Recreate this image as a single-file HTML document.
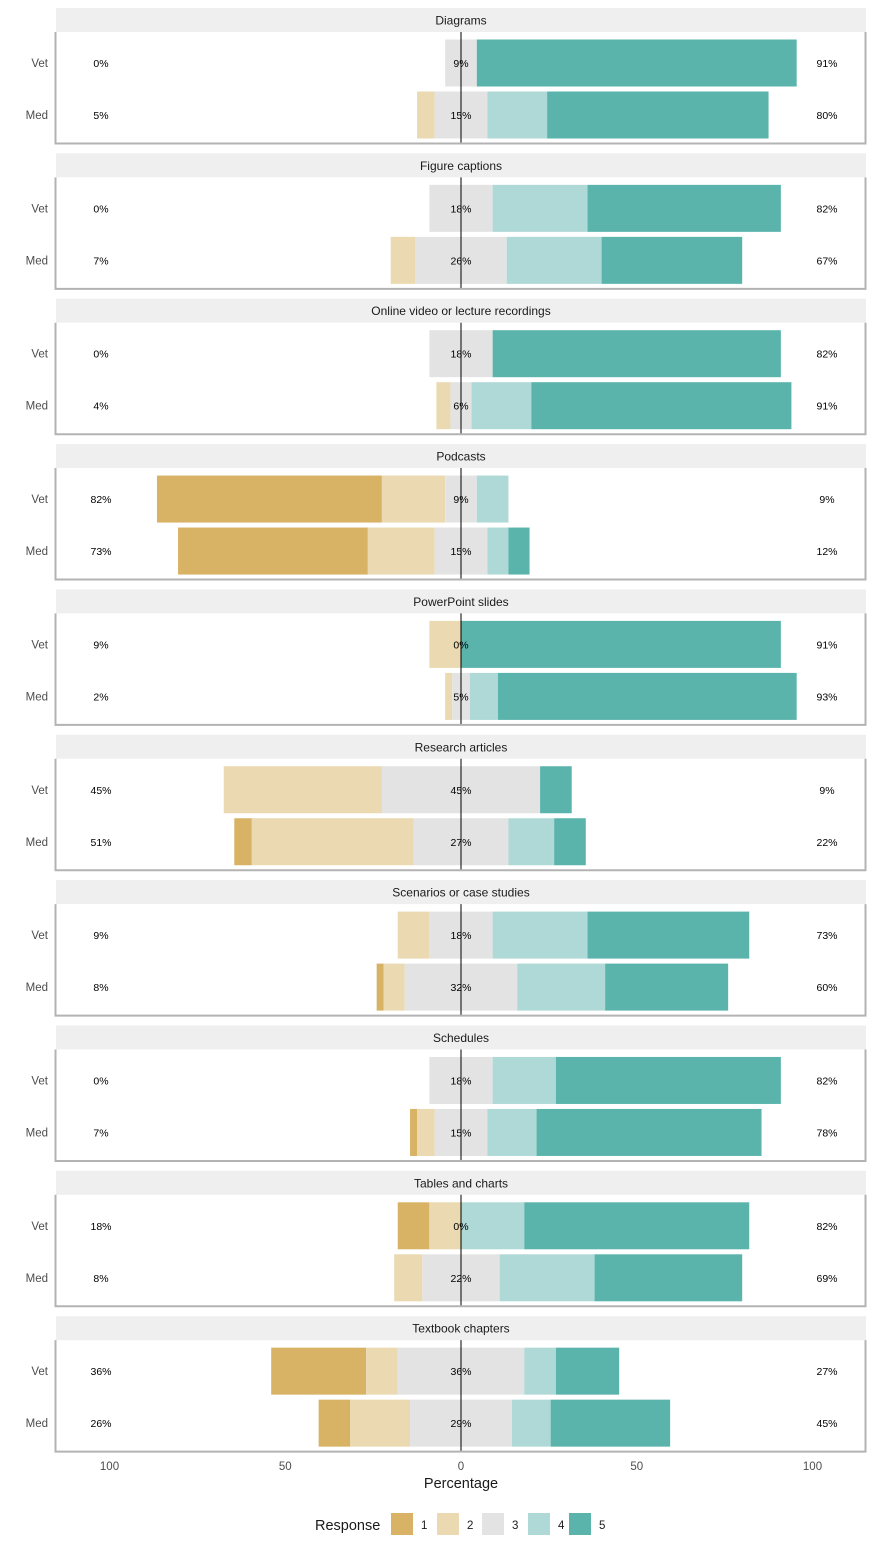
<!DOCTYPE html>
<html><head><meta charset="utf-8"><style>body{margin:0;background:#fff}svg{display:block;font-family:"Liberation Sans",Arial,sans-serif}</style></head>
<body>
<svg id="chart" width="874" height="1550" viewBox="0 0 874 1550"></svg>
<script>
const panels=["Diagrams","Figure captions","Online video or lecture recordings","Podcasts","PowerPoint slides","Research articles","Scenarios or case studies","Schedules","Tables and charts","Textbook chapters"];
const groups=["Vet","Med"];
// values per panel: [vet[1..5], med[1..5]]
const vetValues=[[0,0,9,0,91],[0,0,18,27,55],[0,0,18,0,82],[64,18,9,9,0],[0,9,0,0,91],[0,45,45,0,9],[0,9,18,27,46],[0,0,18,18,64],[9,9,0,18,64],[27,9,36,9,18]];
const medValues=[[0,5,15,17,63],[0,7,26,27,40],[0,4,6,17,74],[54,19,15,6,6],[0,2,5,8,85],[5,46,27,13,9],[2,6,32,25,35],[2,5,15,14,64],[0,8,22,27,42],[9,17,29,11,34]];
const lowLabels=[[0,5],[0,7],[0,4],[82,73],[9,2],[45,51],[9,8],[0,7],[18,8],[36,26]];
const midLabels=[[9,15],[18,26],[18,6],[9,15],[0,5],[45,27],[18,32],[18,15],[0,22],[36,29]];
const highLabels=[[91,80],[82,67],[82,91],[9,12],[91,93],[9,22],[73,60],[82,78],[82,69],[27,45]];
const xTicks=[-100,-50,0,50,100];
const colors=["#D8B365","#EAD9B1","#E3E3E3","#AFD9D6","#5AB4AC"];
const NS="http://www.w3.org/2000/svg";
const svg=document.getElementById('chart');
const x=v=>461+v*3.515;
function mk(tag,attrs,parent){const e=document.createElementNS(NS,tag);for(const k in attrs)e.setAttribute(k,attrs[k]);(parent||svg).appendChild(e);return e;}
function txt(s,attrs,parent){const e=mk('text',attrs,parent);e.textContent=s;return e;}
panels.forEach((p,i)=>{
  const top=8+i*145.35;
  const g=mk('g',{});
  
  
  const strip=mk('rect',{x:56,y:top,width:810,height:24,fill:'#EFEFEF'},g);
  
  
  const st=txt(p,{x:461,y:top+16.5,'text-anchor':'middle','font-size':12,fill:'#1a1a1a'},g);
  
  
  const data=[vetValues[i],medValues[i]];
  data.forEach((vals,r)=>{
    const cy=top+(r===0?55:107);
    let start=-(vals[0]+vals[1]+vals[2]/2);
    vals.forEach((v,k)=>{
      if(v>0){
        const b=mk('rect',{x:x(start),y:cy-23.5,width:v*3.515,height:47,fill:colors[k]},g);
        
        
      }
      start+=v;
    });
    const yl=txt(groups[r],{x:48,y:cy+4,'text-anchor':'end','font-size':11.5,fill:'#4d4d4d'},g);
    
    
    const l1=txt(lowLabels[i][r]+'%',{x:101,y:cy+4,'text-anchor':'middle','font-size':10.5,fill:'#000'},g);
    
    
    const l2=txt(midLabels[i][r]+'%',{x:461,y:cy+4,'text-anchor':'middle','font-size':10.5,fill:'#000'},g);
    
    
    const l3=txt(highLabels[i][r]+'%',{x:827,y:cy+4,'text-anchor':'middle','font-size':10.5,fill:'#000'},g);
    
    
  });
  mk('line',{x1:461,x2:461,y1:top+24,y2:top+135,stroke:'#000','stroke-width':1},g);
  mk('path',{d:`M55.5 ${top+24} V${top+135.5} H865.5 V${top+24}`,fill:'none',stroke:'#B3B3B3','stroke-width':2},g);
});
xTicks.forEach(t=>{
  const e=txt(String(Math.abs(t)),{x:x(t),y:1470,'text-anchor':'middle','font-size':11.5,fill:'#4d4d4d'});
  
  
});
const xt=txt('Percentage',{x:461,y:1488,'text-anchor':'middle','font-size':14.5,fill:'#1a1a1a'});


const lt=txt('Response',{x:315,y:1530,'font-size':14.5,fill:'#1a1a1a'});


const lx=[391,437,482,528,569];
colors.forEach((c,k)=>{
  const g=mk('g',{});
  
  
  mk('rect',{x:lx[k],y:1513,width:22,height:22,fill:c},g);
  txt(String(k+1),{x:lx[k]+30,y:1529,'font-size':11.5,fill:'#1a1a1a'},g);
});
</script>
</body></html>
